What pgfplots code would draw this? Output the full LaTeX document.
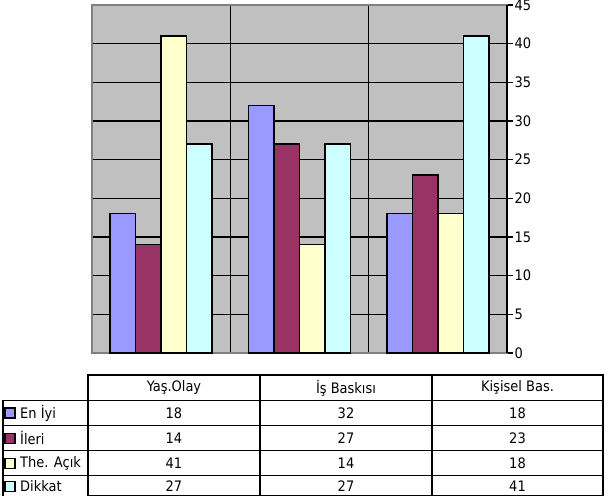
\documentclass[border=0pt]{standalone}
\usepackage{pgfplots}
\pgfplotsset{compat=1.18}
\usepackage{fontspec}
\setmainfont{DejaVu Sans Condensed}
\definecolor{bgGray}{HTML}{C0C0C0}
\definecolor{frameGray}{HTML}{808080}
\definecolor{cA}{HTML}{9999FF}
\definecolor{cB}{HTML}{993366}
\definecolor{cC}{HTML}{FFFFCC}
\definecolor{cD}{HTML}{CCFFFF}
\begin{document}
\begin{tikzpicture}[x=1bp,y=1bp]
\useasboundingbox (0,0) rectangle (610,496);
\begin{axis}[
  scale only axis, width=415bp, height=348bp,
  at={(92bp,143bp)}, anchor=south west,
  xmin=-0.5, xmax=2.5, ymin=0, ymax=45,
  axis background/.style={fill=bgGray},
  axis line style={draw=frameGray, line width=1.5bp},
  xtick={0.5,1.5}, xticklabels={}, xmajorgrids,
  xtick style={draw=none},
  ytick={0,5,...,45}, ytick pos=right, yticklabel pos=right,
  ymajorgrids,
  grid style={black, line width=1.3bp},
  ytick style={black, line width=1.1bp},
  tick align=outside, major tick length=6bp,
  yticklabel style={font=\fontsize{14.5}{15}\selectfont, xshift=-2bp},
  /pgf/number format/assume math mode=true,
  ybar=0pt, bar width=25.5bp,
  clip=false,
]
\addplot[ybar, fill=cA, draw=black, line width=1.4bp] coordinates {(0,18) (1,32) (2,18)};
\addplot[ybar, fill=cB, draw=black, line width=1.4bp] coordinates {(0,14) (1,27) (2,23)};
\addplot[ybar, fill=cC, draw=black, line width=1.4bp] coordinates {(0,41) (1,14) (2,18)};
\addplot[ybar, fill=cD, draw=black, line width=1.4bp] coordinates {(0,27) (1,27) (2,41)};
\draw[black, line width=1.3bp] (rel axis cs:1,0) -- (rel axis cs:1,1);
\draw[black, line width=2.4bp] (axis cs:-0.372,0) -- (axis cs:0.372,0);
\draw[black, line width=2.4bp] (axis cs:0.628,0) -- (axis cs:1.372,0);
\draw[black, line width=2.4bp] (axis cs:1.628,0) -- (axis cs:2.372,0);
\end{axis}
% data table
\begin{scope}[line width=1.2bp]
\draw (88,121) rectangle (603,0);
\draw (3,95.5) -- (88,95.5) -- (88,0);
\draw (3,95.5) -- (3,0);
\foreach \yy in {95.5,70.3,45.3,20.3} {\draw (3,\yy) -- (603,\yy);}
\draw (260,121) -- (260,0);
\draw (432,121) -- (432,0);
\end{scope}
\begin{scope}[font=\fontsize{14.5}{15}\selectfont]
\node at (174,108.2) {Yaş.Olay};
\node at (346,108.2) {İş Baskısı};
\node at (517.5,108.2) {Kişisel Bas.};
\foreach \lab/\col/\yc/\a/\b/\c in {En İyi/cA/83/18/32/18, İleri/cB/57.8/14/27/23, The. Açık/cC/32.8/41/14/18, Dikkat/cD/9.8/27/27/41} {
  \draw[fill=\col, line width=1.1bp] (5,\yc-5) rectangle (15,\yc+5);
  \node[anchor=west, inner sep=0pt] at (20,\yc) {\lab};
  \node at (174,\yc) {\a};
  \node at (346,\yc) {\b};
  \node at (517.5,\yc) {\c};
}
\end{scope}
\end{tikzpicture}
\end{document}
